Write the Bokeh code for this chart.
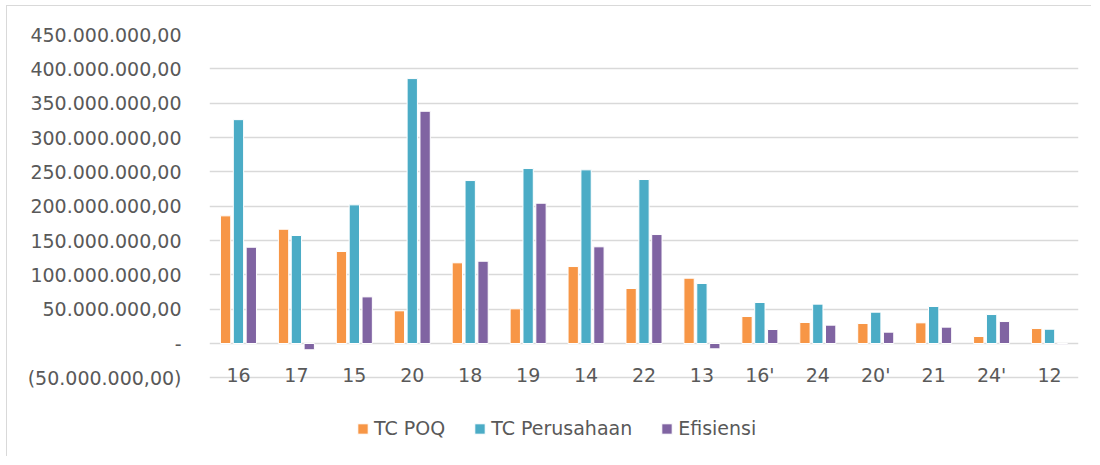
from bokeh.plotting import figure
from bokeh.models import FactorRange, Range1d, FixedTicker, Legend, LegendItem, ColumnDataSource
from bokeh.transform import dodge
from bokeh.core.properties import value
from bokeh.embed import file_html
from bokeh.resources import INLINE

# ---- data ----
categories = ["16", "17", "15", "20", "18", "19", "14", "22", "13", "16'", "24", "20'", "21", "24'", "12"]
tc_poq = [185.9, 166.4, 134.0, 47.6, 117.5, 50.5, 112.1, 80.1, 95.1, 39.3, 30.6, 29.1, 30.1, 10.2, 21.8]
tc_perusahaan = [326.0, 157.3, 201.9, 385.8, 237.3, 254.8, 252.9, 238.8, 87.4, 59.7, 57.3, 45.6, 53.9, 42.2, 20.8]
efisiensi = [140.2, -9.1, 67.9, 338.2, 119.8, 204.3, 140.8, 158.7, -7.7, 20.4, 26.7, 16.5, 23.8, 32.0, -1.0]
series_names = ["TC POQ", "TC Perusahaan", "Efisiensi"]
y_ticks = [-50000000, 0, 50000000, 100000000, 150000000, 200000000, 250000000,
           300000000, 350000000, 400000000, 450000000]
y_tick_labels = ["(50.000.000,00)", "-", "50.000.000,00", "100.000.000,00", "150.000.000,00",
                 "200.000.000,00", "250.000.000,00", "300.000.000,00", "350.000.000,00",
                 "400.000.000,00", "450.000.000,00"]

SCALE = 1e6
colors = ["#F79646", "#4BACC6", "#8064A2"]
FONT = "DejaVu Sans"
FS = "19px"
TXT = "#595959"

src = ColumnDataSource(dict(
    cat=categories,
    poq=[v * SCALE for v in tc_poq],
    per=[v * SCALE for v in tc_perusahaan],
    efi=[v * SCALE for v in efisiensi],
    lab_y=[y_ticks[0]] * len(categories),
))

p = figure(width=1085, height=451,
           x_range=FactorRange(*categories, range_padding=0),
           y_range=Range1d(-166e6, 450e6),
           output_backend="svg", toolbar_location=None,
           min_border_left=202, min_border_right=14, min_border_top=28, min_border_bottom=0)
p.outline_line_color = None
p.styles = {"border-left": "1px solid #D9D9D9", "border-top": "1px solid #D9D9D9",
            "margin-left": "6px", "margin-top": "5px"}

p.xgrid.visible = False
p.ygrid.ticker = FixedTicker(ticks=y_ticks)
p.ygrid.grid_line_color = "#D9D9D9"
p.ygrid.grid_line_width = 1.3

p.xaxis.visible = False
ax = p.yaxis[0]
ax.ticker = FixedTicker(ticks=y_ticks)
ax.major_label_overrides = {t: s for t, s in zip(y_ticks, y_tick_labels)}
ax.axis_line_color = None
ax.major_tick_line_color = None
ax.minor_tick_line_color = None
ax.major_tick_in = 0
ax.major_tick_out = 0
ax.major_label_standoff = 28
ax.major_label_text_font = FONT
ax.major_label_text_font_size = FS
ax.major_label_text_color = TXT

w = 0.178
r1 = p.vbar(x=dodge("cat", -0.222, range=p.x_range), top="poq", width=w, source=src,
            fill_color=colors[0], line_color="white", line_width=1)
r2 = p.vbar(x=dodge("cat", 0.0, range=p.x_range), top="per", width=w, source=src,
            fill_color=colors[1], line_color="white", line_width=1)
r3 = p.vbar(x=dodge("cat", 0.222, range=p.x_range), top="efi", width=w, source=src,
            fill_color=colors[2], line_color="white", line_width=1)

p.text(x="cat", y="lab_y", text="cat", source=src, text_align="center", text_baseline="middle",
       y_offset=-3, text_font=value(FONT), text_font_size=FS, text_color=TXT)

legend = Legend(items=[LegendItem(label=series_names[0], renderers=[r1]),
                       LegendItem(label=series_names[1], renderers=[r2]),
                       LegendItem(label=series_names[2], renderers=[r3])],
                orientation="horizontal", location=(147, 18),
                glyph_width=13, glyph_height=13, label_standoff=5, spacing=28,
                padding=0, margin=0, border_line_color=None, background_fill_alpha=0,
                label_text_font=FONT, label_text_font_size=FS, label_text_color=TXT)
p.add_layout(legend)

open("out.html", "w").write(file_html(p, INLINE))
